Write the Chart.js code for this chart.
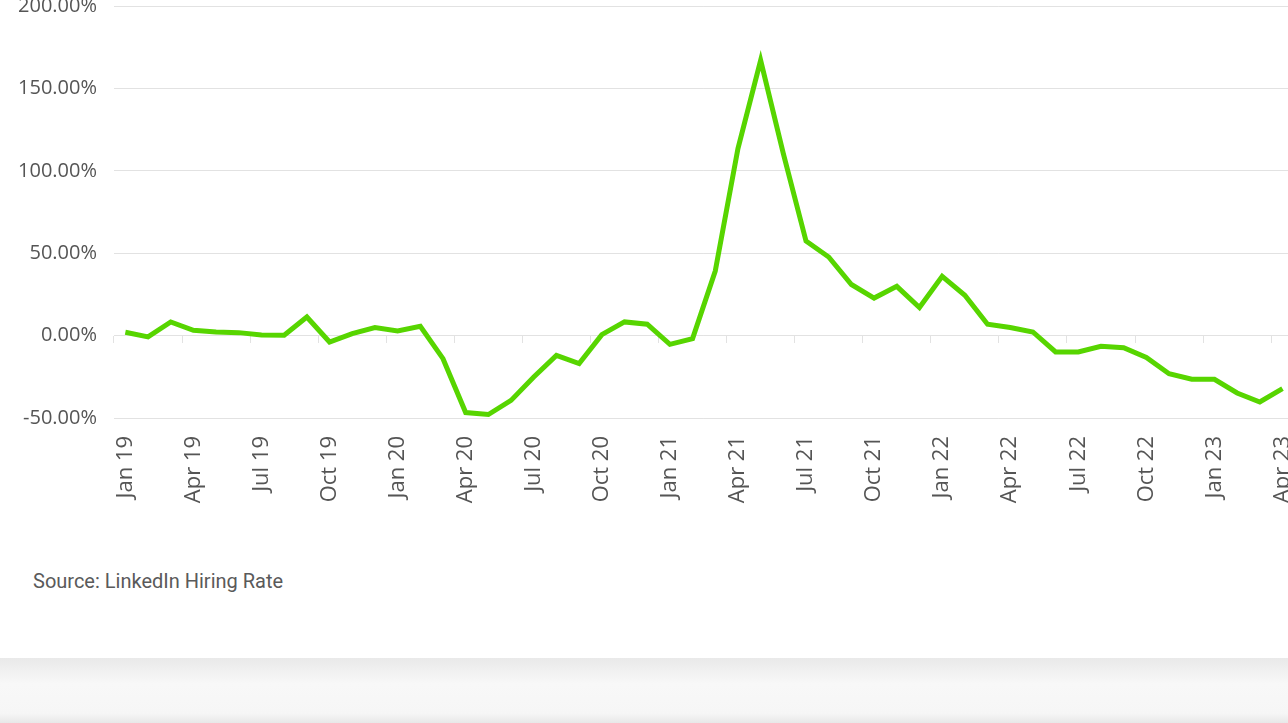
<!DOCTYPE html>
<html>
<head>
<meta charset="utf-8">
<script src="https://cdn.jsdelivr.net/npm/chart.js@4.4.0/dist/chart.umd.min.js"></script>
<style>
  html, body { margin: 0; padding: 0; overflow: hidden; background: #fff; width: 1288px; height: 723px; }
  #wrap { position: absolute; left: 0; top: -23px; width: 1319px; height: 561px; }
  #source { position: absolute; left: 33px; top: 569px; font-family: "Liberation Sans Narrow", Roboto, sans-serif; font-size: 20px; line-height: 24px; color: #5a5a5a; }
  #band { position: absolute; left: 0; top: 658px; width: 1288px; height: 65px;
    background: linear-gradient(#e9e9e9, #f8f8f8 40%, #f6f6f6 85%, #e8e8e8); }
</style>
</head>
<body>
<div id="wrap"><canvas id="myChart"></canvas></div>
<div id="source">Source: LinkedIn Hiring Rate</div>
<div id="band"></div>
<script>
const months = [
    'Jan 19', 'Feb 19', 'Mar 19', 'Apr 19', 'May 19', 'Jun 19', 'Jul 19', 'Aug 19', 'Sep 19', 'Oct 19', 'Nov 19', 'Dec 19',
    'Jan 20', 'Feb 20', 'Mar 20', 'Apr 20', 'May 20', 'Jun 20', 'Jul 20', 'Aug 20', 'Sep 20', 'Oct 20', 'Nov 20', 'Dec 20',
    'Jan 21', 'Feb 21', 'Mar 21', 'Apr 21', 'May 21', 'Jun 21', 'Jul 21', 'Aug 21', 'Sep 21', 'Oct 21', 'Nov 21', 'Dec 21',
    'Jan 22', 'Feb 22', 'Mar 22', 'Apr 22', 'May 22', 'Jun 22', 'Jul 22', 'Aug 22', 'Sep 22', 'Oct 22', 'Nov 22', 'Dec 22',
    'Jan 23', 'Feb 23', 'Mar 23', 'Apr 23'
];
const hiringRate = [
    2.0, -0.8, 8.3, 3.2, 2.2, 1.8, 0.4, 0.2, 11.3, -3.9, 1.2, 4.9,
    2.8, 5.6, -14.0, -46.7, -47.9, -39.3, -25.1, -12.0, -17.0, 0.6, 8.3, 6.9,
    -5.3, -1.8, 39.2, 113.5, 167.0, 110.4, 57.4, 47.7, 31.0, 22.8, 29.9, 17.0,
    36.0, 24.5, 6.9, 4.9, 2.2, -9.9, -9.9, -6.5, -7.3, -13.3, -23.1, -26.5,
    -26.5, -34.8, -40.3, -32.2
];
const shownTicks = ['Jan 19', 'Apr 19', 'Jul 19', 'Oct 19', 'Jan 20', 'Apr 20', 'Jul 20', 'Oct 20',
    'Jan 21', 'Apr 21', 'Jul 21', 'Oct 21', 'Jan 22', 'Apr 22', 'Jul 22', 'Oct 22', 'Jan 23', 'Apr 23'];
const yTicks = [-50, 0, 50, 100, 150, 200];

const gridColor = '#e2e2e2';
const textColor = '#555555';

const ctx = document.getElementById('myChart');
const myChart = new Chart(ctx, {
    type: 'line',
    data: {
        labels: months,
        datasets: [{
            label: 'Hiring rate',
            data: hiringRate,
            borderColor: '#57d500',
            borderWidth: 5,
            pointRadius: 0,
            tension: 0,
            xAxisID: 'x'
        }]
    },
    options: {
        responsive: true,
        maintainAspectRatio: false,
        animation: false,
        layout: {
            padding: { top: 26, right: 11, left: 0, bottom: 0 }
        },
        plugins: {
            legend: { display: false },
            tooltip: { enabled: false }
        },
        scales: {
            x: {
                type: 'category',
                position: 'bottom',
                offset: true,
                grid: { display: false },
                border: { display: false },
                ticks: {
                    autoSkip: false,
                    minRotation: 90,
                    maxRotation: 90,
                    padding: 10,
                    color: textColor,
                    font: { family: 'Open Sans', size: 22 },
                    callback: function (value, index) {
                        const label = this.getLabelForValue(value);
                        return shownTicks.includes(label) ? label : null;
                    }
                },
                afterFit: function (scale) { scale.height = 120; }
            },
            x2: {
                type: 'category',
                position: { y: 0 },
                offset: true,
                border: { display: false },
                grid: {
                    offset: true,
                    drawOnChartArea: false,
                    tickLength: 7,
                    tickColor: function (c) {
                        return shownTicks.includes(months[c.index]) ? gridColor : 'rgba(0,0,0,0)';
                    }
                },
                ticks: { display: false, autoSkip: false }
            },
            y: {
                min: -50,
                max: 200,
                afterBuildTicks: function (scale) {
                    scale.ticks = yTicks.map(v => ({ value: v }));
                },
                border: { display: false },
                grid: { color: gridColor, drawTicks: false },
                ticks: {
                    padding: 17,
                    color: textColor,
                    font: { family: 'Open Sans', size: 20 },
                    callback: v => v.toFixed(2) + '%'
                },
                afterFit: function (scale) { scale.width = 114; }
            }
        }
    }
});
</script>
</body>
</html>
